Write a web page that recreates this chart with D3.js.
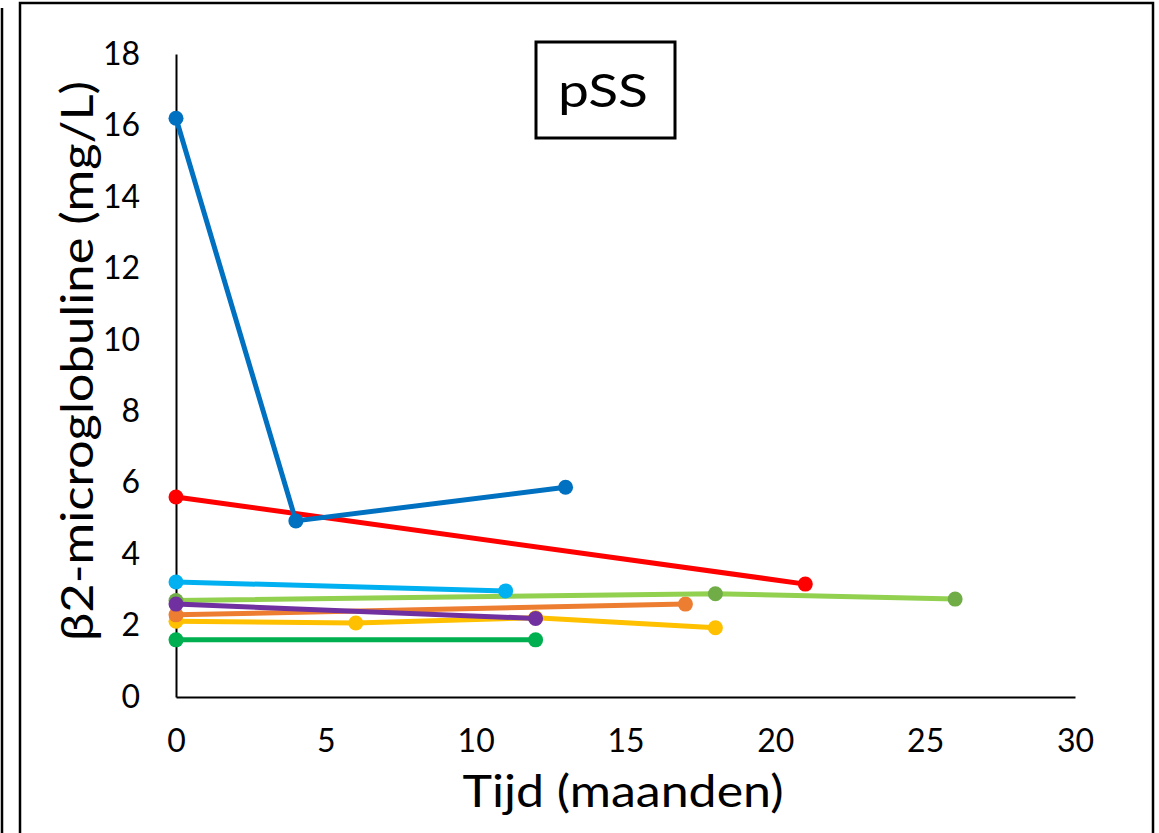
<!DOCTYPE html>
<html>
<head>
<meta charset="utf-8">
<script src="https://cdn.jsdelivr.net/npm/d3@7"></script>
<style>
  body { margin: 0; background: #fff; }
  text { font-family: Lato, "Open Sans", sans-serif; fill: #000; }
</style>
</head>
<body>
<div id="chart"></div>
<script>
const width = 1159;
const height = 833;

const margin = { top: 54, right: 84, bottom: 136, left: 176 };

// data, one array per patient line
const xTicks = [0, 5, 10, 15, 20, 25, 30];
const yTicks = [0, 2, 4, 6, 8, 10, 12, 14, 16, 18];

const seriesNames = ["green", "yellow", "orange", "lightgreen", "lightblue", "purple", "red", "blue"];
const lineColors = ["#00B050", "#FFC000", "#ED7D31", "#92D050", "#00B0F0", "#7030A0", "#FF0000", "#0070C0"];
const markerColors = ["#00B050", "#FFC000", "#ED7D31", "#70AD47", "#00B0F0", "#7030A0", "#FF0000", "#0070C0"];

const green = [[0, 1.6], [12, 1.6]];
const yellow = [[0, 2.12], [6, 2.07], [12, 2.22], [18, 1.94]];
const orange = [[0, 2.3], [17, 2.6]];
const lightgreen = [[0, 2.7], [18, 2.89], [26, 2.74]];
const lightblue = [[0, 3.22], [11, 2.97]];
const purple = [[0, 2.6], [12, 2.2]];
const red = [[0, 5.6], [21, 3.16]];
const blue = [[0, 16.2], [4, 4.93], [13, 5.87]];

const series = [green, yellow, orange, lightgreen, lightblue, purple, red, blue];

const svg = d3.select("#chart")
    .append("svg")
    .attr("width", width)
    .attr("height", height)

// outer frames
svg.append("line").attr("x1", 2).attr("x2", 2).attr("y1", 8).attr("y2", height)
    .attr("stroke", "#000").attr("stroke-width", 2.5)
svg.append("path")
    .attr("d", `M20,${height} L20,3 L1153,3 L1153,${height}`)
    .attr("fill", "none").attr("stroke", "#000").attr("stroke-width", 2.5)

const x = d3.scaleLinear()
    .domain([0, 30])
    .range([margin.left, width - margin.right]);

const y = d3.scaleLinear()
    .domain([0, 18])
    .range([height - margin.bottom, margin.top]);

// axes
const xAxis = svg.append("g")
    .attr("transform", `translate(0, ${y(0)})`)
    .call(d3.axisBottom(x).tickValues(xTicks).tickSize(0).tickPadding(32))
xAxis.select(".domain").attr("stroke", "#000").attr("stroke-width", 2)
xAxis.selectAll("text").style("font-size", "32px").attr("fill", "#000")

const yAxis = svg.append("g")
    .attr("transform", `translate(${x(0)}, 0)`)
    .call(d3.axisLeft(y).tickValues(yTicks).tickSize(0).tickPadding(36))
yAxis.select(".domain").attr("stroke", "#000").attr("stroke-width", 2)
yAxis.selectAll("text").style("font-size", "32px").attr("fill", "#000")

// lines
const line = d3.line()
    .x(d => x(d[0]))
    .y(d => y(d[1]));

series.forEach(function(s, i) {
    const g = svg.append("g").attr("class", seriesNames[i]);
    g.append("path")
        .datum(s)
        .attr("d", line)
        .attr("fill", "none")
        .attr("stroke", lineColors[i])
        .attr("stroke-width", 5)
        .attr("stroke-linejoin", "round")
    g.selectAll("circle")
        .data(s)
        .join("circle")
        .attr("cx", d => x(d[0]))
        .attr("cy", d => y(d[1]))
        .attr("r", 7.5)
        .attr("fill", markerColors[i])
});

// axis titles (stretched a bit, the original font is wider)
svg.append("text")
    .attr("transform", `translate(93, 361) rotate(-90)`)
    .attr("text-anchor", "middle")
    .attr("textLength", 560)
    .attr("lengthAdjust", "spacingAndGlyphs")
    .style("font-size", "45px")
    .text("β2-microglobuline (mg/L)")

svg.append("text")
    .attr("x", 623)
    .attr("y", 807)
    .attr("text-anchor", "middle")
    .attr("textLength", 321)
    .attr("lengthAdjust", "spacingAndGlyphs")
    .style("font-size", "44px")
    .text("Tijd (maanden)")

// label box
svg.append("rect")
    .attr("x", 536).attr("y", 42).attr("width", 139).attr("height", 96)
    .attr("fill", "#fff").attr("stroke", "#000").attr("stroke-width", 3)
svg.append("text")
    .attr("x", 603).attr("y", 107)
    .attr("text-anchor", "middle")
    .attr("textLength", 90)
    .attr("lengthAdjust", "spacingAndGlyphs")
    .style("font-size", "46px")
    .text("pSS")
</script>
</body>
</html>
